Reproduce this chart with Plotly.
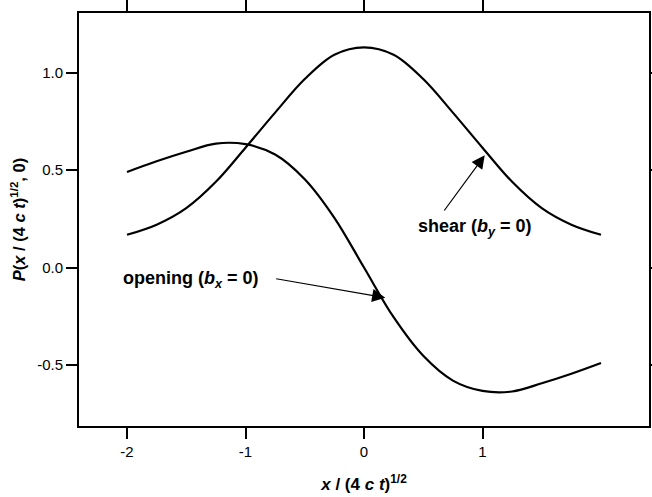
import plotly.graph_objects as go

# Normalised position x / (4ct)^1/2
x_pos = [-2.0, -1.75, -1.5, -1.25, -1.0, -0.75, -0.5, -0.25, 0.0,
         0.25, 0.5, 0.75, 1.0, 1.25, 1.5, 1.75, 2.0]

# Shear dislocation profile (b_y = 0)
shear = [0.168, 0.220, 0.305, 0.440, 0.615, 0.795, 0.967, 1.092, 1.130,
         1.092, 0.967, 0.795, 0.615, 0.440, 0.305, 0.220, 0.168]

# Opening dislocation profile (b_x = 0)
opening = [0.490, 0.545, 0.594, 0.636, 0.633, 0.580, 0.453, 0.255, 0.000,
           -0.255, -0.453, -0.580, -0.633, -0.636, -0.594, -0.545, -0.490]

x_ticks = [-2, -1, 0, 1]
x_tick_text = ["-2", "-1", "0", "1"]
y_ticks = [-0.5, 0.0, 0.5, 1.0]
y_tick_text = ["-0.5", "0.0", "0.5", "1.0"]

FONT = "Liberation Sans, Arial, sans-serif"

fig = go.Figure()
for name, vals in [("shear", shear), ("opening", opening)]:
    fig.add_trace(go.Scatter(
        x=x_pos, y=vals, mode="lines", name=name,
        line=dict(color="black", width=2.2, shape="spline", smoothing=1.0),
        showlegend=False, hoverinfo="skip"))

axis_common = dict(
    showgrid=False, zeroline=False,
    showline=True, linecolor="black", linewidth=2,
    mirror="ticks", ticks="outside", ticklen=11, tickwidth=2, tickcolor="black",
    tickfont=dict(family=FONT, size=15, color="black"),
)

fig.update_xaxes(
    range=[-2.405, 2.405], tickvals=x_ticks, ticktext=x_tick_text,
    title=dict(text="<b><i>x</i> / (4 <i>c t</i>)<sup>1/2</sup></b>",
               font=dict(family=FONT, size=17, color="black"), standoff=19),
    **axis_common)
fig.update_yaxes(
    range=[-0.813, 1.306], tickvals=y_ticks, ticktext=y_tick_text,
    title=dict(text="<b><i>P</i>(<i>x</i> / (4 <i>c t</i>)<sup>1/2</sup>, 0)</b>",
               font=dict(family=FONT, size=16.5, color="black"), standoff=7),
    **axis_common)

label_font = dict(family=FONT, size=18, color="black")

# Curve labels
fig.add_annotation(x=-1.458, y=-0.060, xref="x", yref="y", showarrow=False,
                   text="<b>opening (<i>b</i><sub><i>x</i></sub> = 0)</b>",
                   font=label_font, xanchor="center", yanchor="middle")
fig.add_annotation(x=0.938, y=0.207, xref="x", yref="y", showarrow=False,
                   text="<b>shear (<i>b</i><sub><i>y</i></sub> = 0)</b>",
                   font=label_font, xanchor="center", yanchor="middle")

# Pointer arrows
fig.add_annotation(x=0.18, y=-0.155, ax=-0.754, ay=-0.056,
                   xref="x", yref="y", axref="x", ayref="y", text="",
                   showarrow=True, arrowhead=2, arrowsize=2.2, arrowwidth=1.2,
                   arrowcolor="black")
fig.add_annotation(x=1.019, y=0.576, ax=0.668, ay=0.285,
                   xref="x", yref="y", axref="x", ayref="y", text="",
                   showarrow=True, arrowhead=2, arrowsize=2.2, arrowwidth=1.2,
                   arrowcolor="black")

fig.update_layout(
    width=652, height=497,
    margin=dict(l=79, r=3, t=13, b=71, autoexpand=False),
    paper_bgcolor="white", plot_bgcolor="white",
)

fig.write_html("out.html")
